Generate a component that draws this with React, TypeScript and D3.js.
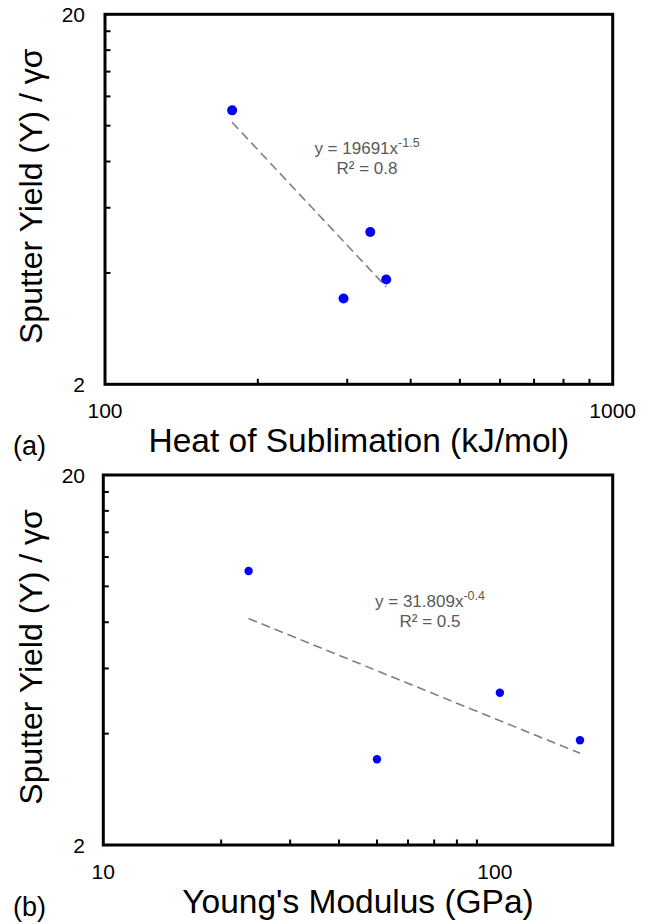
import React from "react";
import * as d3 from "d3";

// ---- data ----
const yieldRatio = [11.0, 5.16, 3.84, 3.41]; // Sputter Yield (Y) / γσ
const heatOfSublimation = [178, 333, 358, 295]; // kJ/mol
const youngsModulus = [23.5, 103, 165, 50]; // GPa

const yDomain = [2, 20];
const yTickLabels = ["2", "20"];
const yMinorTicks = [4, 6, 8, 10, 12, 14, 16, 18];

const xDomainA = [100, 1000];
const xTickLabelsA = ["100", "1000"];
const xMinorTicksA = [200, 300, 400, 500, 600, 700, 800, 900];

const xDomainB = [10, 200];
const xTickLabelsB = ["10", "100"];
const xMinorTicksB = [20, 30, 40, 50, 60, 70, 80, 90, 200];

const FONT = "'Liberation Sans', Arial, Helvetica, sans-serif";

function powerFit(xs: number[], ys: number[]) {
  const lx = xs.map(Math.log10);
  const ly = ys.map(Math.log10);
  const mx = d3.mean(lx)!;
  const my = d3.mean(ly)!;
  let sxy = 0, sxx = 0;
  lx.forEach((v, i) => {
    sxy += (v - mx) * (ly[i] - my);
    sxx += (v - mx) * (v - mx);
  });
  const b = sxy / sxx;
  const a = my - b * mx;
  return (x: number) => Math.pow(10, a + b * Math.log10(x));
}

type PanelProps = {
  top: number;
  left: number;
  xs: number[];
  xDomain: number[];
  xLabels: string[];
  xMinor: number[];
  xTitle: string;
  tag: string;
  eqMain: string;
  eqExp: string;
  r2: string;
  eqX: number;
  eqY: number;
  r: number;
};

function Panel(p: PanelProps) {
  const right = 612.7;
  const bottom = p.top + 370;
  const x = d3.scaleLog().domain(p.xDomain).range([p.left, right]);
  const y = d3.scaleLog().domain(yDomain).range([bottom, p.top]);
  const fit = powerFit(p.xs, yieldRatio);
  const [xmin, xmax] = d3.extent(p.xs) as [number, number];
  const line = d3
    .line<number>()
    .x((d) => x(d))
    .y((d) => y(fit(d)));
  const fitPts = [xmin, xmax];
  const midY = (p.top + bottom) / 2 - 3;
  const midX = (p.left + right) / 2;
  return (
    <g>
      {/* trendline */}
      <path
        d={line(fitPts) || ""}
        fill="none"
        stroke="#7f7f7f"
        strokeWidth={1.6}
        strokeDasharray="9,5"
      />
      {/* points */}
      {p.xs.map((v, i) => (
        <circle key={i} cx={x(v)} cy={y(yieldRatio[i])} r={p.r} fill="#0000ff" />
      ))}
      {/* minor ticks */}
      {yMinorTicks.map((t) => (
        <line key={"y" + t} x1={p.left} x2={p.left + 5.5} y1={y(t)} y2={y(t)} stroke="#000" strokeWidth={2} />
      ))}
      {p.xMinor.map((t) => (
        <line key={"x" + t} x1={x(t)} x2={x(t)} y1={bottom} y2={bottom - 5.5} stroke="#000" strokeWidth={2} />
      ))}
      {/* frame */}
      <rect x={p.left} y={p.top} width={right - p.left} height={bottom - p.top} fill="none" stroke="#000" strokeWidth={3} />
      {/* y tick labels */}
      {yDomain.map((t, i) => (
        <text key={"yl" + t} x={85} y={y(t)} dy="0.36em" textAnchor="end" fontSize={21} fontFamily={FONT} fill="#000">
          {yTickLabels[i]}
        </text>
      ))}
      {/* x tick labels */}
      {p.xLabels.map((t) => (
        <text key={"xl" + t} x={x(+t)} y={bottom + 34} textAnchor="middle" fontSize={21} fontFamily={FONT} fill="#000">
          {t}
        </text>
      ))}
      {/* axis titles */}
      <text x={midX} y={bottom + 67.5} textAnchor="middle" fontSize={33.5} fontFamily={FONT} fill="#000">
        {p.xTitle}
      </text>
      <text
        transform={`translate(42,${midY}) rotate(-90)`}
        textAnchor="middle"
        fontSize={32}
        fontFamily={FONT}
        fill="#000"
      >
        Sputter Yield (Y) / γσ
      </text>
      <text x={13} y={bottom + 71} fontSize={27} fontFamily={FONT} fill="#000">
        {p.tag}
      </text>
      {/* equation */}
      <text x={p.eqX} y={p.eqY} textAnchor="middle" fontSize={17} fontFamily={FONT} fill="#595959">
        {p.eqMain}
        <tspan fontSize={12.5} dy={-7}>{p.eqExp}</tspan>
      </text>
      <text x={p.eqX} y={p.eqY + 20} textAnchor="middle" fontSize={17} fontFamily={FONT} fill="#595959">
        {p.r2}
      </text>
    </g>
  );
}

export default function App() {
  return (
    <svg
      width={660}
      height={924}
      style={{ position: "absolute", left: 0, top: 0, background: "#fff" }}
    >
      <rect width={660} height={924} fill="#fff" />
      <Panel
        top={14.3}
        left={105}
        xs={heatOfSublimation}
        xDomain={xDomainA}
        xLabels={xTickLabelsA}
        xMinor={xMinorTicksA}
        xTitle="Heat of Sublimation (kJ/mol)"
        tag="(a)"
        eqMain="y = 19691x"
        eqExp="-1.5"
        r2="R² = 0.8"
        eqX={367}
        eqY={154}
        r={5}
      />
      <Panel
        top={475}
        left={103.3}
        xs={youngsModulus}
        xDomain={xDomainB}
        xLabels={xTickLabelsB}
        xMinor={xMinorTicksB}
        xTitle="Young's Modulus (GPa)"
        tag="(b)"
        eqMain="y = 31.809x"
        eqExp="-0.4"
        r2="R² = 0.5"
        eqX={430}
        eqY={607}
        r={4.2}
      />
    </svg>
  );
}
